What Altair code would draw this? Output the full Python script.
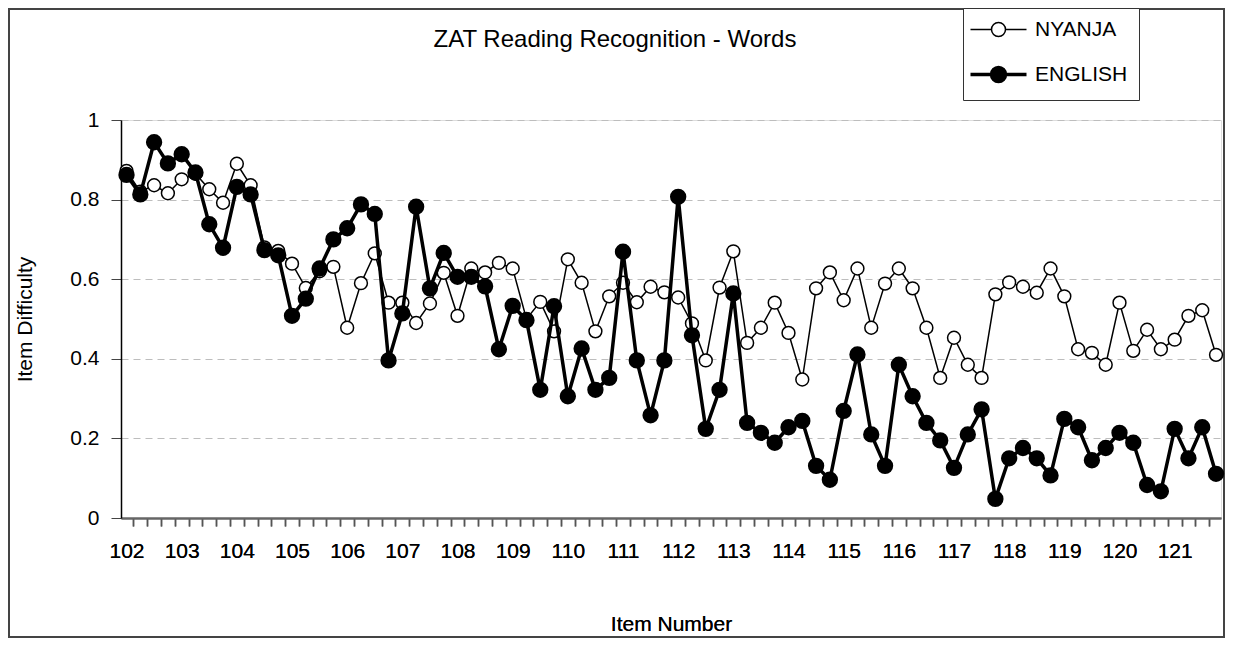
import json
import altair as alt
import pandas as pd

# ---- data ----
series_names = ["NYANJA", "ENGLISH"]
group_labels = [str(v) for v in range(102, 122)]  # one label every 4 items
items = list(range(80))

nyanja = [0.872, 0.82, 0.836, 0.816, 0.851, 0.865, 0.826, 0.792, 0.890, 0.836,
          0.680, 0.671, 0.639, 0.578, 0.620, 0.631, 0.478, 0.590, 0.665, 0.541,
          0.541, 0.490, 0.539, 0.616, 0.508, 0.627, 0.617, 0.641, 0.627, 0.500,
          0.543, 0.469, 0.650, 0.591, 0.469, 0.557, 0.591, 0.542, 0.581, 0.567,
          0.554, 0.489, 0.396, 0.579, 0.670, 0.440, 0.478, 0.541, 0.465, 0.348,
          0.577, 0.617, 0.547, 0.627, 0.478, 0.589, 0.627, 0.577, 0.478, 0.352,
          0.453, 0.385, 0.352, 0.562, 0.592, 0.581, 0.566, 0.627, 0.557, 0.424,
          0.415, 0.385, 0.541, 0.420, 0.473, 0.424, 0.448, 0.508, 0.522, 0.410]

english = [0.862, 0.813, 0.944, 0.891, 0.914, 0.868, 0.738, 0.679, 0.832, 0.813,
           0.673, 0.660, 0.508, 0.551, 0.627, 0.700, 0.728, 0.788, 0.764, 0.396,
           0.514, 0.782, 0.577, 0.666, 0.606, 0.606, 0.582, 0.424, 0.533, 0.497,
           0.322, 0.532, 0.306, 0.426, 0.322, 0.352, 0.669, 0.396, 0.258, 0.396,
           0.807, 0.459, 0.224, 0.322, 0.564, 0.239, 0.214, 0.189, 0.228, 0.244,
           0.131, 0.096, 0.269, 0.411, 0.210, 0.131, 0.385, 0.306, 0.239, 0.195,
           0.126, 0.210, 0.273, 0.048, 0.150, 0.176, 0.150, 0.107, 0.249, 0.228,
           0.145, 0.176, 0.214, 0.189, 0.083, 0.067, 0.224, 0.150, 0.228, 0.111]

y_ticks = [0, 0.2, 0.4, 0.6, 0.8, 1.0]

rows = []
for name, vals in zip(series_names, [nyanja, english]):
    for i, v in zip(items, vals):
        rows.append({"item": i, "series": name, "value": v})
df = pd.DataFrame(rows)

FONT = "Liberation Sans Narrow, Arial Narrow, Liberation Sans, Arial, sans-serif"
W, H = 1100, 398

xscale = alt.Scale(domain=[-0.4, 79.36], nice=False, zero=False)
yscale = alt.Scale(domain=[0, 1], nice=False)
fill_scale = alt.Scale(domain=series_names, range=["white", "black"])
sw_scale = alt.Scale(domain=series_names, range=[1.5, 3.5])

boundaries = [k + 0.5 for k in range(79)]
label_pos = [4 * k for k in range(len(group_labels))]

tick_axis = alt.Axis(values=boundaries, labels=False, tickSize=8, tickColor="#555",
                     tickWidth=1.5, domainColor="#666", domainWidth=2, grid=False,
                     title=None, orient="bottom")
label_axis = alt.Axis(values=label_pos,
                      labelExpr=json.dumps(group_labels) + "[round(datum.value/4)]",
                      ticks=False, domain=False, grid=False, orient="bottom",
                      labelFont=FONT, labelFontSize=21, labelColor="black",
                      labelPadding=22, labelFlush=False, labelOverlap=False,
                      title="Item Number", titleFont=FONT, titleFontSize=21,
                      titleFontWeight="normal", titleColor="black", titlePadding=52)
y_axis = alt.Axis(values=y_ticks, format="~g", tickSize=10, tickColor="#444",
                  domainColor="black", domainWidth=1.5,
                  grid=True, gridDash=[7, 5], gridColor="#bdbdbd", gridWidth=1,
                  labelFont=FONT, labelFontSize=21, labelColor="black", labelPadding=12,
                  title="Item Difficulty", titleFont=FONT, titleFontSize=21,
                  titleFontWeight="normal", titleColor="black", titlePadding=34)

PATH = "M-4,0L-1,0M1,0L4,0M1,0A1,1,0,1,1,-1,0A1,1,0,1,1,1,0Z"
legend = alt.Legend(title=None, orient="none", legendX=842, legendY=-112,
                    symbolType=PATH, symbolSize=196, symbolStrokeColor="black",
                    symbolOffset=14, labelOffset=26,
                    labelFont=FONT, labelFontSize=21, labelColor="black",
                    strokeColor="#333", fillColor="white", padding=11, rowPadding=20)

base = alt.Chart(df)

line_n = base.transform_filter(alt.datum.series == "NYANJA").mark_line(
    color="black", strokeWidth=1.5).encode(
    x=alt.X("item:Q", scale=xscale, axis=tick_axis),
    y=alt.Y("value:Q", scale=yscale, axis=y_axis),
)
pt_n = base.transform_filter(alt.datum.series == "NYANJA").mark_point(
    shape="circle", size=165, stroke="black", opacity=1).encode(
    x=alt.X("item:Q", scale=xscale, axis=label_axis),
    y=alt.Y("value:Q", scale=yscale, axis=y_axis),
    fill=alt.Fill("series:N", scale=fill_scale, legend=legend),
    strokeWidth=alt.StrokeWidth("series:N", scale=sw_scale, legend=legend),
)
line_e = base.transform_filter(alt.datum.series == "ENGLISH").mark_line(
    color="black", strokeWidth=3.5).encode(
    x=alt.X("item:Q", scale=xscale, axis=tick_axis),
    y=alt.Y("value:Q", scale=yscale, axis=y_axis),
)
pt_e = base.transform_filter(alt.datum.series == "ENGLISH").mark_point(
    shape="circle", size=165, stroke="black", opacity=1).encode(
    x=alt.X("item:Q", scale=xscale, axis=label_axis),
    y=alt.Y("value:Q", scale=yscale, axis=y_axis),
    fill=alt.Fill("series:N", scale=fill_scale, legend=legend),
    strokeWidth=alt.StrokeWidth("series:N", scale=sw_scale, legend=legend),
)

border = alt.Chart(pd.DataFrame({"k": [0]})).mark_rect(
    fill="white", fillOpacity=0, stroke="#444", strokeWidth=2).encode(
    x=alt.value(-112), x2=alt.value(W + 3), y=alt.value(-111), y2=alt.value(H + 119))

chart = alt.layer(border, line_n, pt_n, line_e, pt_e).resolve_axis(x="independent").properties(
    width=W, height=H,
    autosize=alt.AutoSizeParams(type="none"),
    padding={"left": 113, "top": 112, "right": 4, "bottom": 120},
    title=alt.TitleParams(text="ZAT Reading Recognition - Words", font=FONT, fontSize=24,
                          fontWeight="normal", color="black", anchor="middle",
                          frame="group", dx=-56, offset=-44),
).configure_view(strokeWidth=0).configure(background="white")

chart.save("out.html", embed_options={"renderer": "svg", "actions": False})
